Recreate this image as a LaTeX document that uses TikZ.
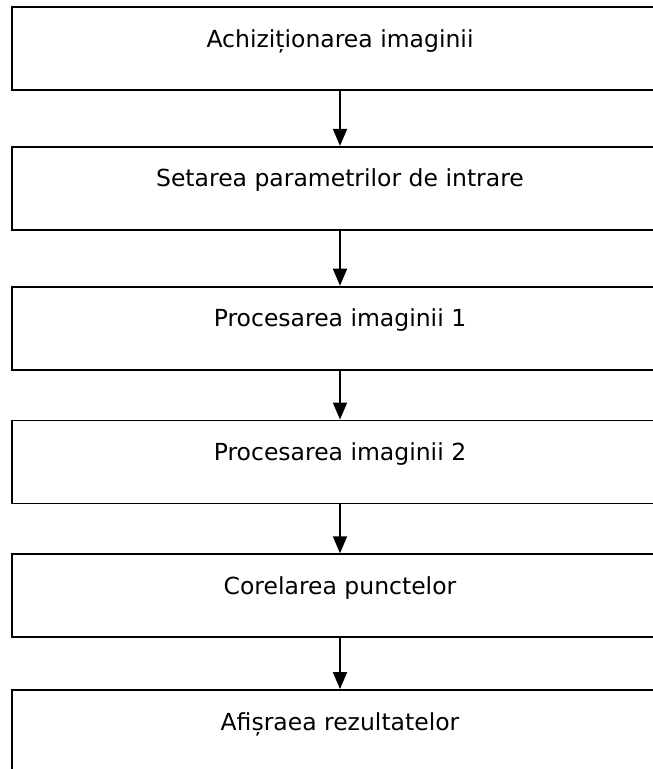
\documentclass[tikz,border=0pt]{standalone}
\usepackage{fontspec}
\setmainfont{DejaVu Sans}
\usetikzlibrary{arrows.meta,positioning}

\begin{document}
\begin{tikzpicture}[x=1pt, y=1pt, >={Triangle[length=17pt,width=14pt]},
  stepbox/.style={draw, line width=1.8pt, minimum width=656pt, inner xsep=0pt, inner ysep=0pt,
    text height=40pt, text depth=43pt, font=\fontsize{23.5}{28}\selectfont},
  flow/.style={->, line width=1.9pt}]
  % page frame; the boxes run off the right edge
  \useasboundingbox (0,0) rectangle (653,-769);
  \clip (0,0) rectangle (653,-769);
  % steps, top to bottom
  \node[stepbox] (achizitie) at (340,-48.5) {Achiziționarea imaginii};
  \node[stepbox, below=55pt of achizitie] (setare) {Setarea parametrilor de intrare};
  \node[stepbox, below=55pt of setare] (proc1) {Procesarea imaginii 1};
  \node[stepbox, below=49pt of proc1] (proc2) {Procesarea imaginii 2};
  \node[stepbox, below=49pt of proc2] (corelare) {Corelarea punctelor};
  \node[stepbox, below=51pt of corelare] (afisare) {Afișraea rezultatelor};
  % arrows between steps
  \draw[flow] (achizitie) -- (setare);
  \draw[flow] (setare) -- (proc1);
  \draw[flow] (proc1) -- (proc2);
  \draw[flow] (proc2) -- (corelare);
  \draw[flow] (corelare) -- (afisare);
\end{tikzpicture}
\end{document}
